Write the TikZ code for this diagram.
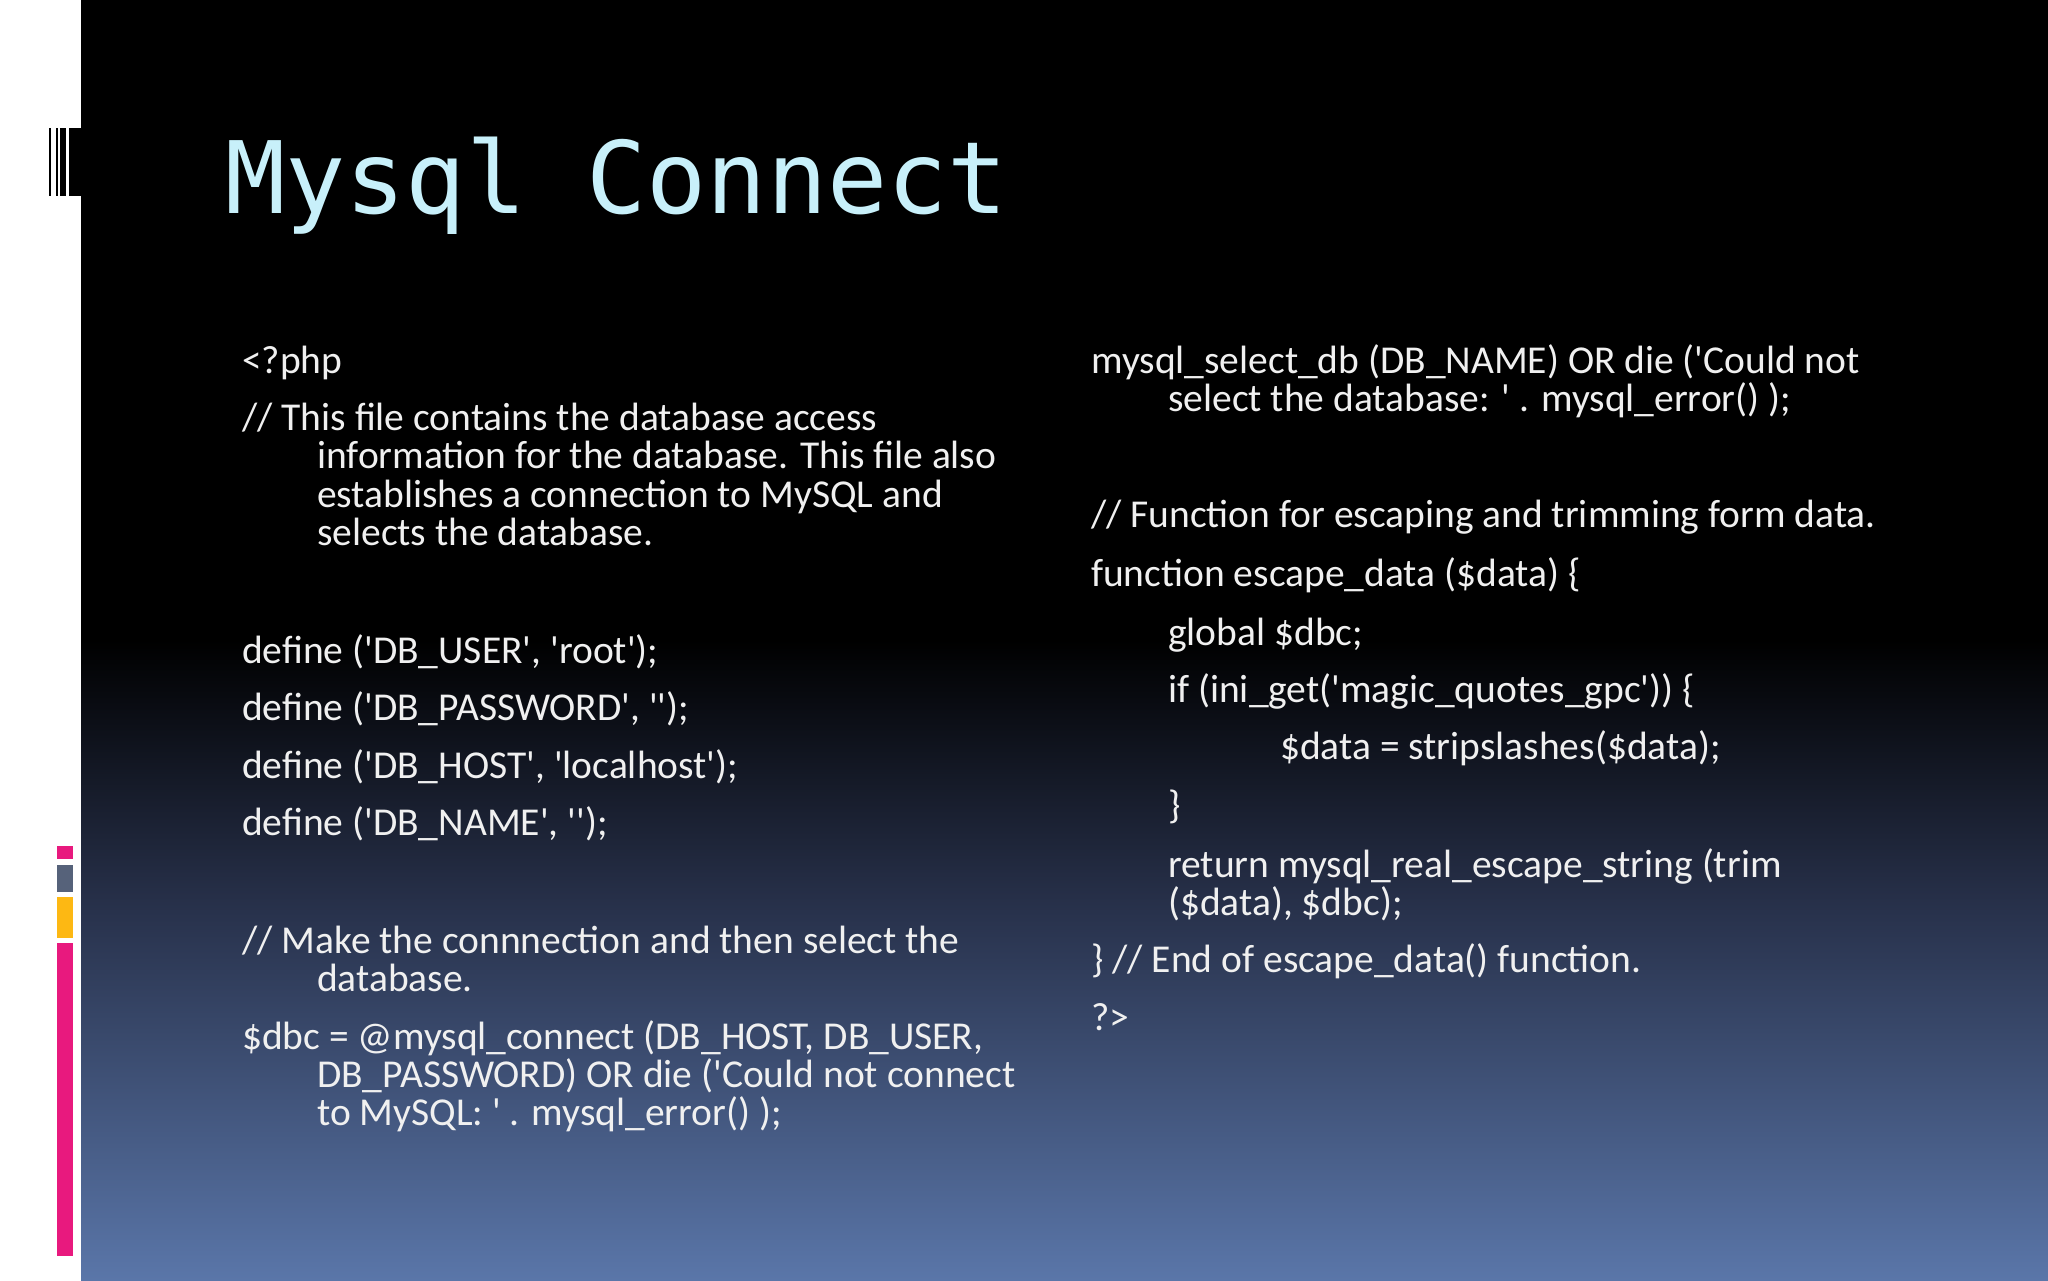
\documentclass[tikz,border=0pt]{standalone}
\usepackage{fontspec}
\setmainfont{Carlito}
\newfontfamily\titlefont{DejaVu Sans Mono}
\newcommand{\q}{\textquotesingle}
\definecolor{bgblue}{HTML}{5A76A9}
\definecolor{bgmid}{HTML}{262F48}
\definecolor{titlecol}{HTML}{C8F0FA}
\definecolor{pinkbar}{HTML}{E8197E}
\definecolor{graybar}{HTML}{56627A}
\definecolor{yellowbar}{HTML}{FDB813}
\pgfdeclareverticalshading{slidebg}{100bp}{color(0bp)=(bgblue); color(25bp)=(bgblue); color(40bp)=(bgmid); color(50bp)=(black); color(100bp)=(black)}
\begin{document}
\begin{tikzpicture}[x=1pt,y=1pt,
  txt/.style={anchor=base west,inner sep=0pt,text=white!94!black,font=\fontsize{39.5}{40}\selectfont}]
\useasboundingbox (0,0) rectangle (2048,1280);
\fill[white] (0,0) rectangle (81,1280);
\shade[shading=slidebg] (81,0) rectangle (2048,1280);
% barcode
\foreach \a/\b in {49/51,56/58,60/66,69/81} \fill[black] (\a,1084) rectangle (\b,1152);
% colour bars
\fill[pinkbar] (57,421) rectangle (73,434);
\fill[graybar] (57,388) rectangle (73,415);
\fill[yellowbar] (57,342) rectangle (73,383);
\fill[pinkbar] (57,24) rectangle (73,337);
\node[anchor=base west,inner sep=0pt,text=titlecol,font=\titlefont\fontsize{100}{120}\selectfont] (title) at (225,1066) {Mysql Connect};
\begin{scope}[yshift=-3pt]
% left column
\node[txt] (l1) at (242,909) {<?php};
\node[txt] (l2) at (242,852) {// This file contains the database access};
\node[txt] (l3) at (317,814) {information for the database. This file also};
\node[txt] (l4) at (317,775) {establishes a connection to MySQL and};
\node[txt] (l5) at (317,737) {selects the database.};
\node[txt] (l6) at (242,619) {define (\q DB\_USER\q, \q root\q);};
\node[txt] (l7) at (242,562) {define (\q DB\_PASSWORD\q, \q\q);};
\node[txt] (l8) at (242,504) {define (\q DB\_HOST\q, \q localhost\q);};
\node[txt] (l9) at (242,447) {define (\q DB\_NAME\q, \q\q);};
\node[txt] (l10) at (242,329) {// Make the connnection and then select the};
\node[txt] (l11) at (317,291) {database.};
\node[txt] (l12) at (242,233) {\$dbc = @mysql\_connect (DB\_HOST, DB\_USER,};
\node[txt] (l13) at (317,195) {DB\_PASSWORD) OR die (\q Could not connect};
\node[txt] (l14) at (317,157) {to MySQL: \q\ . mysql\_error() );};
% right column
\node[txt] (r1) at (1091,909) {mysql\_select\_db (DB\_NAME) OR die (\q Could not};
\node[txt] (r2) at (1168,871) {select the database: \q\ . mysql\_error() );};
\node[txt] (r3) at (1091,755) {// Function for escaping and trimming form data.};
\node[txt] (r4) at (1091,696) {function escape\_data (\$data) \{};
\node[txt] (r5) at (1168,637) {global \$dbc;};
\node[txt] (r6) at (1168,580) {if (ini\_get(\q magic\_quotes\_gpc\q)) \{};
\node[txt] (r7) at (1280,523) {\$data = stripslashes(\$data);};
\node[txt] (r8) at (1168,464) {\}};
\node[txt] (r9) at (1168,405) {return mysql\_real\_escape\_string (trim};
\node[txt] (r10) at (1168,367) {(\$data), \$dbc);};
\node[txt] (r11) at (1091,310) {\} // End of escape\_data() function.};
\node[txt] (r12) at (1091,252) {?>};
\end{scope}
\end{tikzpicture}
\end{document}
